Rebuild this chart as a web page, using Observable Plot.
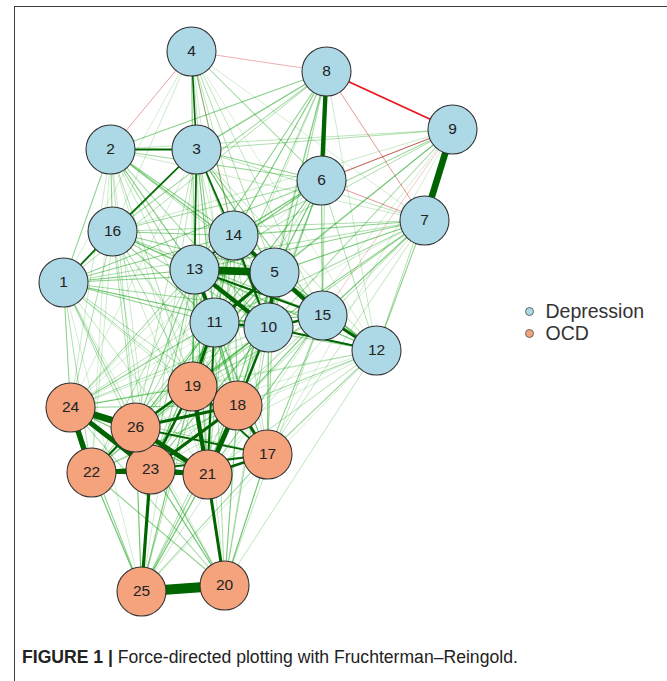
<!DOCTYPE html>
<html><head><meta charset="utf-8">
<script src="https://cdn.jsdelivr.net/npm/d3@7"></script>
<script src="https://cdn.jsdelivr.net/npm/@observablehq/plot@0.6"></script>
<style>
html,body{margin:0;padding:0;background:#fff;}
body{width:667px;height:681px;position:relative;overflow:hidden;font-family:"Liberation Sans",Arial,sans-serif;}
#frame{position:absolute;left:14px;top:6px;right:-5px;bottom:-5px;border-top:1.3px solid #3c3c3c;border-left:1.3px solid #3c3c3c;pointer-events:none;}
#chart{position:absolute;left:0;top:0;}
#caption{position:absolute;left:22px;top:647px;font-size:17.6px;color:#222;white-space:nowrap;}
</style></head><body>
<div id="chart"></div><div id="frame"></div>
<div id="caption"><b>FIGURE 1 |</b> Force-directed plotting with Fruchterman–Reingold.</div>
<script>
// Node layout
const nodeIds   = [1,2,3,4,5,6,7,8,9,10,11,12,13,14,15,16,17,18,19,20,21,22,23,24,25,26];
const nodeX     = [63,110,196,191,274,321,424,326,452,268,214,376,194,233,322,112,267,237,192,224,207,91,150,70,141,135];
const nodeY     = [282,149,149,51,272,180,220,71,129,327,322,350,269,235,315,231,454,405,386,585,474,472,469,407,591,427];
const nodeGroup = ["Depression","Depression","Depression","Depression","Depression","Depression","Depression","Depression",
                   "Depression","Depression","Depression","Depression","Depression","Depression","Depression","Depression",
                   "OCD","OCD","OCD","OCD","OCD","OCD","OCD","OCD","OCD","OCD"];
const groups      = ["Depression","OCD"];
const groupColors = ["#ADD8E6","#F4A37C"];

// Edges: [from, to, weight]
const strongEdges = [
  [25,20,1.0],[9,7,0.7],[8,6,0.5],[13,5,0.8],[14,5,0.45],[13,10,0.5],[13,11,0.45],[5,10,0.45],[5,11,0.4],
  [11,10,0.35],[5,15,0.5],[15,12,0.4],[10,12,0.3],[10,15,0.35],[13,15,0.3],[14,13,0.3],[14,10,0.3],
  [2,3,0.3],[3,16,0.27],[3,13,0.27],[3,14,0.27],[4,3,0.26],[1,16,0.26],[11,19,0.38],[11,21,0.3],[10,18,0.32],
  [24,26,0.7],[24,22,0.6],[24,23,0.55],[26,23,0.5],[22,23,0.5],[26,21,0.55],
  [23,21,0.5],[19,21,0.5],[18,21,0.55],[19,26,0.35],[19,23,0.35],[18,26,0.4],[18,23,0.4],[18,17,0.4],
  [21,17,0.35],[23,17,0.28],[19,18,0.3],[22,26,0.3],[22,21,0.28],[23,25,0.4],[21,20,0.38],[26,17,0.28],[19,17,0.27]
];
const negativeEdges = [
  [8,9,-0.27],[6,9,-0.2],[8,7,-0.12],[6,7,-0.12],[4,2,-0.1],[4,8,-0.08],[4,14,-0.05],[9,15,-0.04]
];
const weakEdges = [
  [4,13,0.12],[4,14,0.15],[4,5,0.1],[4,11,0.08],[4,10,0.08],[4,16,0.06],[4,1,0.05],[4,6,0.12],[4,15,0.08],[4,7,0.05],[4,19,0.05],[4,18,0.05],[4,12,0.04],
  [8,2,0.15],[8,3,0.18],[8,16,0.12],[8,1,0.1],[8,13,0.15],[8,14,0.18],[8,5,0.15],[8,11,0.12],[8,10,0.12],[8,15,0.1],[8,12,0.06],[8,19,0.06],[8,18,0.06],
  [9,3,0.1],[9,2,0.08],[9,14,0.12],[9,13,0.1],[9,5,0.15],[9,11,0.1],[9,10,0.12],[9,12,0.1],[9,16,0.06],[9,1,0.06],[9,18,0.05],[9,17,0.05],
  [6,3,0.15],[6,2,0.12],[6,16,0.12],[6,1,0.1],[6,13,0.18],[6,14,0.2],[6,5,0.2],[6,11,0.15],[6,10,0.15],[6,15,0.18],[6,12,0.1],[6,19,0.08],[6,18,0.1],[6,24,0.05],[6,26,0.05],[6,21,0.06],
  [7,3,0.08],[7,2,0.06],[7,16,0.1],[7,1,0.1],[7,13,0.15],[7,14,0.15],[7,5,0.18],[7,11,0.12],[7,10,0.15],[7,15,0.18],[7,12,0.15],[7,19,0.08],[7,18,0.1],[7,17,0.08],[7,21,0.06],[7,26,0.05],[7,24,0.04],
  [2,16,0.15],[2,1,0.15],[2,13,0.18],[2,14,0.15],[2,5,0.15],[2,11,0.12],[2,10,0.12],[2,15,0.1],[2,12,0.06],[2,19,0.1],[2,18,0.08],[2,24,0.06],[2,26,0.08],[2,23,0.06],[2,21,0.06],[2,22,0.05],
  [3,1,0.15],[3,5,0.22],[3,11,0.18],[3,10,0.18],[3,15,0.15],[3,12,0.08],[3,19,0.12],[3,18,0.1],[3,26,0.08],[3,23,0.08],[3,21,0.08],[3,17,0.06],[3,24,0.05],
  [16,13,0.18],[16,14,0.15],[16,5,0.15],[16,11,0.15],[16,10,0.12],[16,15,0.12],[16,12,0.08],[16,19,0.1],[16,18,0.08],[16,24,0.1],[16,26,0.1],[16,22,0.06],[16,23,0.08],[16,21,0.06],[16,17,0.05],
  [1,13,0.18],[1,14,0.15],[1,5,0.15],[1,11,0.15],[1,10,0.12],[1,15,0.12],[1,12,0.1],[1,19,0.1],[1,18,0.1],[1,24,0.15],[1,26,0.12],[1,22,0.1],[1,23,0.1],[1,21,0.08],[1,17,0.08],[1,25,0.05],[1,20,0.05],
  [14,11,0.22],[14,15,0.22],[14,12,0.12],[14,19,0.15],[14,18,0.15],[14,26,0.1],[14,23,0.1],[14,21,0.12],[14,17,0.08],[14,24,0.08],[14,22,0.06],
  [13,12,0.15],[13,18,0.2],[13,19,0.22],[13,26,0.15],[13,23,0.15],[13,21,0.18],[13,17,0.1],[13,24,0.12],[13,22,0.1],[13,25,0.06],[13,20,0.06],
  [5,12,0.2],[5,19,0.18],[5,18,0.2],[5,21,0.18],[5,26,0.12],[5,23,0.12],[5,17,0.12],[5,24,0.08],[5,22,0.08],[5,20,0.06],
  [11,15,0.2],[11,12,0.12],[11,18,0.22],[11,26,0.2],[11,23,0.2],[11,17,0.15],[11,24,0.15],[11,22,0.12],[11,25,0.1],[11,20,0.1],
  [10,19,0.22],[10,21,0.22],[10,26,0.15],[10,23,0.18],[10,17,0.2],[10,24,0.1],[10,22,0.1],[10,25,0.1],[10,20,0.12],
  [15,19,0.12],[15,18,0.18],[15,21,0.15],[15,17,0.15],[15,26,0.08],[15,23,0.1],[15,20,0.08],[15,25,0.06],[15,24,0.06],
  [12,19,0.08],[12,18,0.12],[12,21,0.1],[12,17,0.12],[12,23,0.06],[12,26,0.05],[12,20,0.08],[12,25,0.05],[12,24,0.04],[12,22,0.04],
  [24,19,0.2],[24,18,0.15],[24,21,0.2],[24,17,0.12],[24,25,0.15],[24,20,0.12],[22,19,0.15],[22,18,0.15],[22,17,0.12],[22,25,0.2],[22,20,0.15],
  [26,25,0.2],[26,20,0.18],[23,20,0.2],[21,25,0.2],[19,25,0.18],[19,20,0.15],[18,25,0.15],[18,20,0.18],[17,25,0.12],[17,20,0.2]
];

// Build tables
const nodes = nodeIds.map((id, i) => ({id, x: nodeX[i], y: nodeY[i], group: nodeGroup[i],
  fill: groupColors[groups.indexOf(nodeGroup[i])]}));
const byId = new Map(nodes.map(n => [n.id, n]));
const cut = 0.25;
const edges = [...weakEdges, ...negativeEdges, ...strongEdges].map(([a, b, w]) => {
  const s = byId.get(a), t = byId.get(b), aw = Math.abs(w);
  let color, width;
  if (w > 0) {
    if (aw >= cut) { color = "rgb(0,100,0)"; width = 1.5 + (aw - cut) / (1 - cut) * 8.5; }
    else { color = `rgba(0,153,0,${(0.08 + 0.6 * aw / cut).toFixed(3)})`; width = 0.8 + 2 * aw; }
  } else {
    if (aw >= cut) { color = "rgb(235,20,30)"; width = 1.8; }
    else { color = `rgba(191,0,0,${(0.12 + 0.6 * aw / cut).toFixed(3)})`; width = 1; }
  }
  return {x1: s.x, y1: s.y, x2: t.x, y2: t.y, w: aw, color, width};
}).sort((p, q) => p.w - q.w);

const legendY = [311, 333];
const legend = groups.map((g, i) => ({g, x: 529, y: legendY[i], fill: groupColors[i]}));

const plot = Plot.plot({
  width: 667, height: 645,
  margin: 0,
  x: {domain: [0, 667], range: [0, 667], axis: null},
  y: {domain: [0, 645], range: [0, 645], axis: null},
  color: {type: "identity"},
  style: {background: "transparent", overflow: "visible", fontFamily: "'Liberation Sans', Arial, sans-serif"},
  marks: [
    Plot.link(edges, {x1: "x1", y1: "y1", x2: "x2", y2: "y2", stroke: "color", strokeWidth: "width", strokeLinecap: "butt"}),
    Plot.dot(nodes, {x: "x", y: "y", r: 24.5, fill: "fill", stroke: "#333", strokeWidth: 1.1}),
    Plot.text(nodes, {x: "x", y: "y", text: d => String(d.id), fontSize: 15.5, fill: "#222"}),
    Plot.dot(legend, {x: "x", y: "y", r: 4, fill: "fill", stroke: "#666", strokeWidth: 1}),
    Plot.text(legend, {x: d => d.x + 16, y: "y", text: "g", textAnchor: "start", fontSize: 19.5, fill: "#333"})
  ]
});
document.getElementById("chart").appendChild(plot);
</script>
</body></html>
